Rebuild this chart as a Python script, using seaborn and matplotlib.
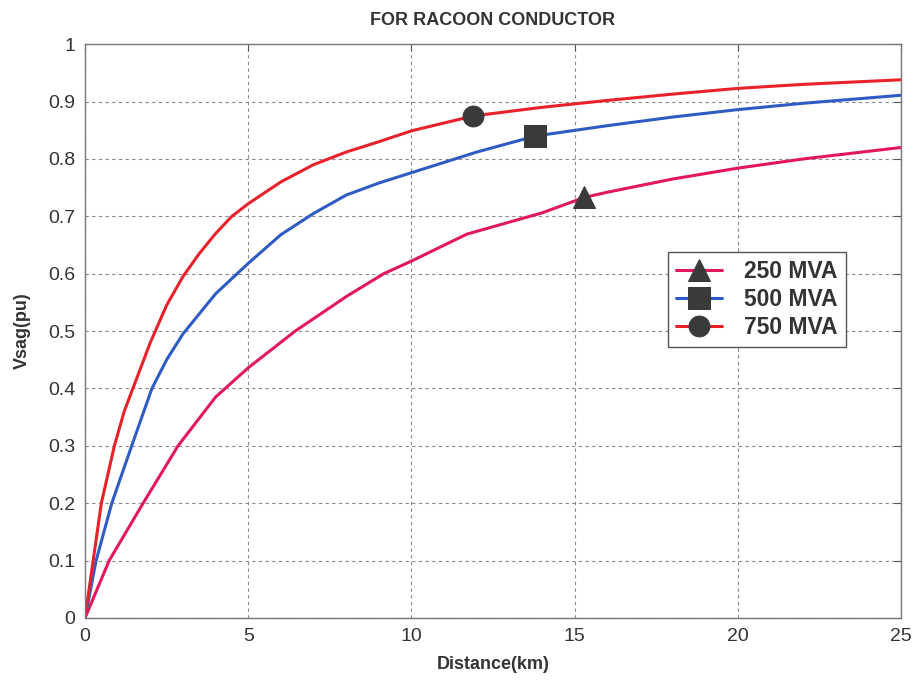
import matplotlib
matplotlib.use("Agg")
import matplotlib.pyplot as plt
import seaborn as sns
import pandas as pd

# Voltage sag vs. fault distance for three source fault levels
dist_250 = [0, 0.74, 1.78, 2.85, 4, 5, 6.44, 8, 9.15, 10, 11.7, 14, 15.3, 16, 18, 20, 22, 25]
vsag_250 = [0, 0.10, 0.20, 0.30, 0.385, 0.436, 0.50, 0.56, 0.60, 0.622, 0.669, 0.706, 0.733, 0.742, 0.765, 0.784, 0.80, 0.82]

dist_500 = [0, 0.34, 0.82, 1.43, 2.05, 2.5, 3, 4, 5, 6, 7, 8, 9, 10, 12, 13.8, 16, 18, 20, 22, 25]
vsag_500 = [0, 0.10, 0.20, 0.30, 0.40, 0.45, 0.495, 0.565, 0.618, 0.668, 0.705, 0.737, 0.758, 0.776, 0.812, 0.840, 0.858, 0.873, 0.886, 0.897, 0.911]

dist_750 = [0, 0.25, 0.5, 0.9, 1.2, 1.5, 2, 2.5, 3, 3.5, 4, 4.5, 5, 6, 7, 8, 9, 10, 11.9, 14, 16, 18, 20, 22, 25]
vsag_750 = [0, 0.10, 0.20, 0.30, 0.36, 0.405, 0.48, 0.545, 0.595, 0.635, 0.67, 0.70, 0.722, 0.76, 0.79, 0.812, 0.83, 0.849, 0.875, 0.89, 0.902, 0.913, 0.923, 0.93, 0.938]

labels = ["250 MVA", "500 MVA", "750 MVA"]
colors = ["#e2185a", "#2f5cc4", "#e8212b"]
markers = ["^", "s", "o"]
marker_at = [15.3, 13.8, 11.9]  # distance where each curve carries its marker

x_ticks = [0, 5, 10, 15, 20, 25]
y_ticks = [0, 0.1, 0.2, 0.3, 0.4, 0.5, 0.6, 0.7, 0.8, 0.9, 1]

sns.set_style("white")
plt.rcParams["font.family"] = ["Liberation Sans", "DejaVu Sans"]

fig = plt.figure(figsize=(9.17, 6.8), dpi=100)
ax = fig.add_axes([0.0927, 0.0912, 0.8899, 0.8438])

series = [(dist_250, vsag_250), (dist_500, vsag_500), (dist_750, vsag_750)]
for (xs, ys), lab, col, mk, mx in zip(series, labels, colors, markers, marker_at):
    df = pd.DataFrame({"Distance": xs, "Vsag": ys})
    sns.lineplot(data=df, x="Distance", y="Vsag", ax=ax, color=col, lw=2.2,
                 label=lab, marker=mk, markevery=[xs.index(mx)],
                 markersize=16 if mk != "o" else 15,
                 markerfacecolor="#3a3a3a", markeredgecolor="#3a3a3a",
                 sort=False, errorbar=None)

ax.set_xlim(0, 25)
ax.set_ylim(0, 1)
ax.set_xticks(x_ticks)
ax.set_yticks(y_ticks)
ax.set_xticklabels([str(t) for t in x_ticks])
ax.set_yticklabels(["0", "0.1", "0.2", "0.3", "0.4", "0.5", "0.6", "0.7", "0.8", "0.9", "1"])
ax.tick_params(direction="in", length=5, labelsize=14, colors="#555555",
               labelcolor="#333333", top=True, right=True, pad=7)

ax.grid(True, color="#888888", linestyle=(0, (3, 3)), linewidth=0.8)
for sp in ax.spines.values():
    sp.set_color("#777777")
    sp.set_linewidth(1.0)

ax.set_xlabel("Distance(km)", fontsize=13, fontweight="bold", color="#333333", labelpad=8)
ax.set_ylabel("Vsag(pu)", fontsize=13, fontweight="bold", color="#333333", labelpad=12)
ax.set_title("FOR RACOON CONDUCTOR", fontsize=13, fontweight="bold", color="#333333", pad=14)

leg = ax.legend(loc="upper left", bbox_to_anchor=(0.714, 0.638), fancybox=False,
                framealpha=1, edgecolor="#555555", prop={"weight": "bold", "size": 16.5},
                handlelength=2.0, borderpad=0.35, labelspacing=0.22, handletextpad=1.0,
                borderaxespad=0)
leg.get_frame().set_linewidth(1.0)
for t in leg.get_texts():
    t.set_color("#333333")

fig.savefig("out.png", dpi=100)
